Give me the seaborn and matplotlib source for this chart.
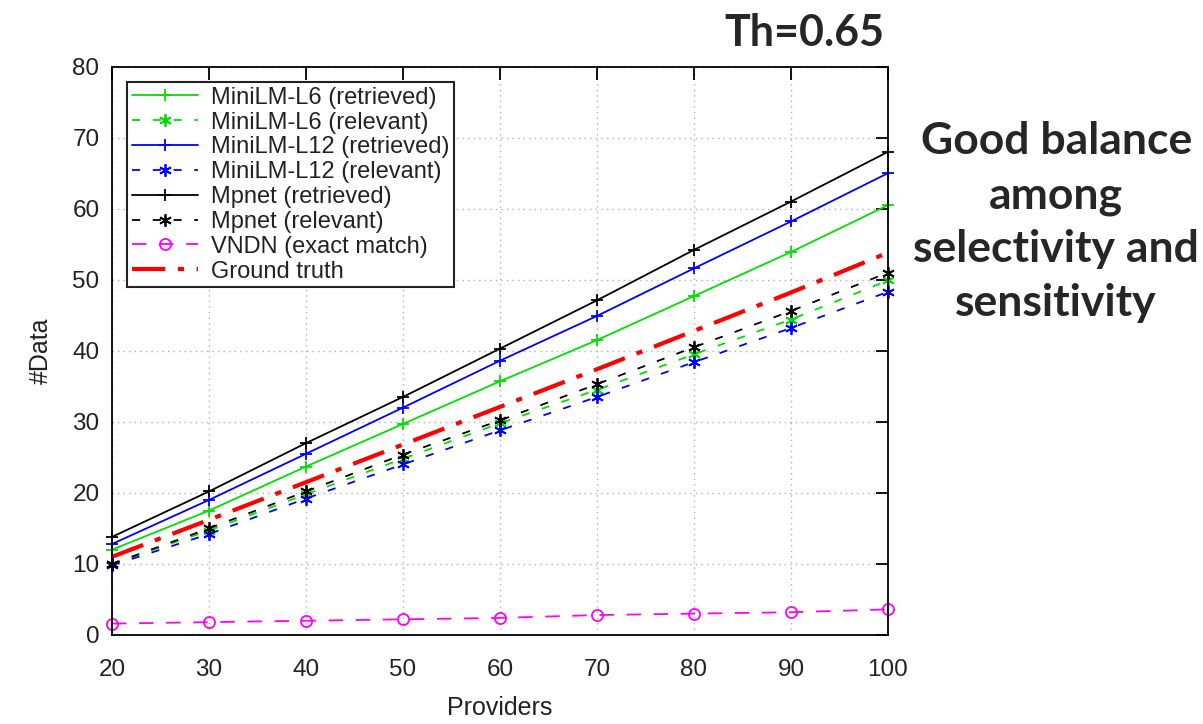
import numpy as np
import pandas as pd
import matplotlib
matplotlib.use("Agg")
import matplotlib.pyplot as plt
import seaborn as sns

providers = [20, 30, 40, 50, 60, 70, 80, 90, 100]
minilm6_retrieved = [12.0, 17.5, 23.7, 29.7, 35.7, 41.5, 47.7, 53.9, 60.5]
minilm6_relevant = [10.0, 14.7, 19.8, 24.8, 29.8, 34.5, 39.5, 44.4, 49.9]
minilm12_retrieved = [12.8, 19.0, 25.5, 32.0, 38.6, 44.9, 51.6, 58.2, 65.0]
minilm12_relevant = [9.8, 14.2, 19.2, 24.0, 28.8, 33.5, 38.4, 43.2, 48.3]
mpnet_retrieved = [13.8, 20.2, 27.0, 33.5, 40.3, 47.1, 54.2, 61.0, 68.0]
mpnet_relevant = [10.0, 15.0, 20.2, 25.4, 30.2, 35.3, 40.5, 45.6, 51.0]
vndn_exact = [1.6, 1.8, 2.0, 2.2, 2.4, 2.8, 3.0, 3.2, 3.6]
ground_truth = [11.0, 16.2, 21.5, 26.8, 32.1, 37.4, 42.8, 48.2, 53.8]

labels = ["MiniLM-L6 (retrieved)", "MiniLM-L6 (relevant)",
          "MiniLM-L12 (retrieved)", "MiniLM-L12 (relevant)",
          "Mpnet (retrieved)", "Mpnet (relevant)",
          "VNDN (exact match)", "Ground truth"]
values = [minilm6_retrieved, minilm6_relevant, minilm12_retrieved, minilm12_relevant,
          mpnet_retrieved, mpnet_relevant, vndn_exact, ground_truth]

sns.set_style("white")
plt.rcParams['font.family'] = ['Liberation Sans', 'DejaVu Sans']

fig = plt.figure(figsize=(12.03, 7.24), dpi=100)
ax = fig.add_axes([0.0931, 0.123, 0.645, 0.785])

star = (6, 2, 0)
rel_dash = (0, (4.5, 7))
styles = [
    dict(color="#00e000", ls="-", marker="+", ms=9, lw=1.3, mfc="none"),
    dict(color="#00e000", ls=rel_dash, marker=star, ms=9, lw=1.3),
    dict(color="#0000ff", ls="-", marker="+", ms=9, lw=1.3, mfc="none"),
    dict(color="#0000ff", ls=rel_dash, marker=star, ms=9, lw=1.3),
    dict(color="#000000", ls="-", marker="+", ms=9, lw=1.3, mfc="none"),
    dict(color="#000000", ls=rel_dash, marker=star, ms=9, lw=1.3),
    dict(color="#ff00ff", ls=(0, (8, 7)), marker="o", ms=8, lw=1.3, mfc="none"),
    dict(color="#ff0000", ls=(0, (8, 3, 1.5, 3)), marker=None, lw=3.0),
]

for lab, vals, st in zip(labels, values, styles):
    df = pd.DataFrame({"Providers": providers, "#Data": vals})
    st = dict(st)
    color = st.pop("color")
    mk = st.pop("marker")
    kw = dict(linestyle=st.pop("ls"), linewidth=st.pop("lw"))
    if mk is not None:
        kw.update(marker=mk, markersize=st.pop("ms"),
                  markeredgecolor=color, markeredgewidth=1.3)
        if "mfc" in st:
            kw["markerfacecolor"] = st.pop("mfc")
        else:
            kw["markerfacecolor"] = color
    sns.lineplot(data=df, x="Providers", y="#Data", ax=ax, color=color,
                 label=lab, clip_on=False, **kw)

ax.set_xlim(20, 100)
ax.set_ylim(0, 80)
ax.set_xticks(providers)
ax.set_yticks(range(0, 81, 10))
ax.grid(True, color="#b0b0b0", linestyle=(0, (1, 3)), linewidth=1.0)
for s in ax.spines.values():
    s.set_color("black")
    s.set_linewidth(1.3)
ax.tick_params(axis="both", direction="in", length=9, width=1.3,
               top=True, right=True, labelsize=17.5, colors="black",
               labelcolor="#222222")
ax.tick_params(axis="x", pad=17)
ax.tick_params(axis="y", pad=9)
ax.set_xlabel("Providers", fontsize=18, color="#222222", labelpad=11)
ax.set_ylabel("#Data", fontsize=18, color="#222222", labelpad=14)

leg = ax.legend(loc="upper left", fontsize=17, frameon=True, fancybox=False,
                edgecolor="#222222", framealpha=1, borderpad=0.2,
                labelspacing=0.12, handlelength=2.8, handletextpad=0.55,
                borderaxespad=0.65)
leg.get_frame().set_linewidth(1.5)
for t in leg.get_texts():
    t.set_color("#222222")

bold_font = ["Lato", "DejaVu Sans"]
fig.text(0.735, 0.954, "Th=0.65", fontsize=31, fontweight="bold",
         ha="right", va="center", family=bold_font)
fig.text(0.878, 0.693, "Good balance\namong\nselectivity and\nsensitivity",
         fontsize=32, fontweight="bold", ha="center", va="center",
         linespacing=1.42, family=bold_font)

fig.savefig("out.png", dpi=100)
